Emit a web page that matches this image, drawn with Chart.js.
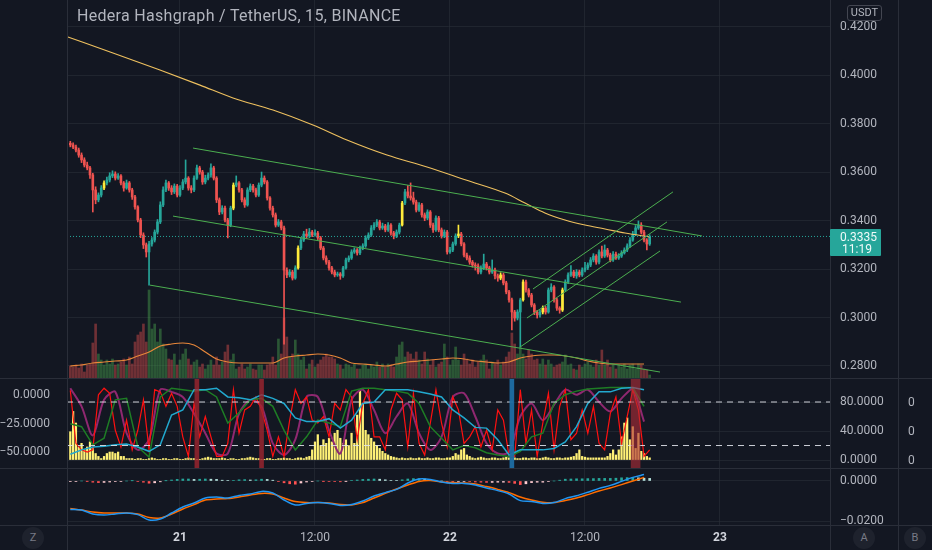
<!DOCTYPE html>
<html><head><meta charset="utf-8">
<script src="https://cdn.jsdelivr.net/npm/chart.js@4.4.1/dist/chart.umd.min.js"></script>
<style>
html,body{margin:0;padding:0;background:#131722;}
body{width:932px;height:550px;position:relative;overflow:hidden;font-family:Roboto,"Noto Sans","DejaVu Sans",sans-serif;}
canvas{position:absolute;left:0;}
.t{position:absolute;color:#b2b5be;white-space:nowrap;}
.hl{position:absolute;left:0;width:932px;height:1px;background:#2a2e39;}
.vl{position:absolute;top:0;width:1px;height:550px;background:#2a2e39;}
.btn{position:absolute;width:22px;height:22px;border-radius:50%;background:#1e222d;color:#787b86;font-size:11px;line-height:22px;text-align:center;}
</style></head>
<body>
<canvas id="pMain" width="932" height="378" style="top:0"></canvas>
<canvas id="pInd" width="932" height="90" style="top:378px"></canvas>
<canvas id="pMacd" width="932" height="82" style="top:468px"></canvas>

<div class="vl" style="left:67px"></div>
<div class="vl" style="left:830px"></div>
<div class="vl" style="left:898px"></div>
<div class="hl" style="top:378px"></div>
<div class="hl" style="top:468px"></div>
<div class="hl" style="top:525px"></div>

<div class="t" style="left:77px;top:6px;font-size:16px;line-height:20px;letter-spacing:0.3px;">Hedera Hashgraph / TetherUS, 15, BINANCE</div>
<div class="t" style="left:847px;top:5px;width:33px;height:14px;border:1px solid #434651;border-radius:3px;font-size:11px;line-height:14px;text-align:center;">USDT</div>
<div style="position:absolute;left:830px;top:229px;width:51px;height:27px;background:#26a69a;border-radius:1px;color:#f0faf9;font-size:12px;line-height:12px;">
  <div style="position:absolute;left:10px;top:2px;">0.3335</div>
  <div style="position:absolute;left:12px;top:14px;">11:19</div>
</div>
<div class="t" style="left:908px;top:395px;font-size:12px;line-height:14px;">0</div>
<div class="t" style="left:908px;top:424px;font-size:12px;line-height:14px;">0</div>
<div class="t" style="left:908px;top:453px;font-size:12px;line-height:14px;">0</div>
<div class="btn" style="left:22px;top:527px;">Z</div>
<div class="btn" style="left:853px;top:527px;">A</div>
<div class="btn" style="left:904px;top:527px;">B</div>

<script>
// ---------------- DATA ----------------
const timeTickHours = [0, 12, 24, 36, 48];
const timeTickLabels = ["21", "12:00", "22", "12:00", "23"];
const priceTicks = [0.28, 0.30, 0.32, 0.34, 0.36, 0.38, 0.40, 0.42];
const START_HOUR = -9.75;   // first 15m candle (20th 14:15), hours from day 21 00:00
const STEP = 0.25;          // 15 minutes

const firstOpen = 0.3720;
const closes = [0.3713,0.3704,0.3692,0.3671,0.3651,0.3630,0.3618,0.3589,0.3527,0.3486,
 0.3506,0.3535,0.3556,0.3568,0.3585,0.3593,0.3576,0.3585,0.3556,0.3535,
 0.3556,0.3527,0.3498,0.3457,0.3403,0.3341,0.3300,0.3271,0.3304,0.3320,
 0.3353,0.3395,0.3465,0.3527,0.3556,0.3535,0.3519,0.3543,0.3506,0.3535,
 0.3560,0.3576,0.3535,0.3527,0.3576,0.3618,0.3601,0.3560,0.3576,0.3589,
 0.3618,0.3576,0.3486,0.3436,0.3452,0.3403,0.3382,0.3452,0.3547,0.3556,
 0.3527,0.3486,0.3465,0.3527,0.3543,0.3527,0.3506,0.3547,0.3576,0.3560,
 0.3494,0.3452,0.3424,0.3382,0.3395,0.3370,0.3196,0.3176,0.3188,0.3163,
 0.3205,0.3287,0.3320,0.3345,0.3337,0.3353,0.3341,0.3349,0.3329,0.3287,
 0.3246,0.3229,0.3205,0.3188,0.3176,0.3180,0.3172,0.3205,0.3238,0.3246,
 0.3271,0.3279,0.3267,0.3287,0.3296,0.3329,0.3341,0.3370,0.3382,0.3395,
 0.3370,0.3378,0.3362,0.3382,0.3349,0.3337,0.3353,0.3382,0.3473,0.3519,
 0.3502,0.3494,0.3477,0.3444,0.3465,0.3424,0.3411,0.3436,0.3382,0.3362,
 0.3411,0.3362,0.3337,0.3353,0.3271,0.3279,0.3304,0.3337,0.3345,0.3304,
 0.3258,0.3246,0.3229,0.3217,0.3213,0.3188,0.3205,0.3221,0.3205,0.3188,
 0.3196,0.3172,0.3163,0.3176,0.3143,0.3106,0.3073,0.3023,0.2998,0.3023,
 0.3073,0.3147,0.3114,0.3093,0.3052,0.3023,0.3011,0.3023,0.3039,0.3023,
 0.3114,0.3126,0.3073,0.3039,0.3031,0.3114,0.3147,0.3176,0.3188,0.3172,
 0.3188,0.3176,0.3196,0.3205,0.3217,0.3238,0.3254,0.3229,0.3271,0.3254,
 0.3279,0.3258,0.3238,0.3262,0.3246,0.3254,0.3267,0.3279,0.3296,0.3320,
 0.3345,0.3370,0.3382,0.3353,0.3320,0.3304,0.3335];
const highs = [0.3728,0.3722,0.3712,0.3700,0.3680,0.3660,0.3642,0.3625,0.3596,0.3540,
 0.3515,0.3545,0.3565,0.3580,0.3598,0.3606,0.3602,0.3595,0.3590,0.3562,
 0.3568,0.3562,0.3534,0.3505,0.3462,0.3410,0.3350,0.3308,0.3315,0.3330,
 0.3362,0.3405,0.3478,0.3540,0.3568,0.3562,0.3545,0.3552,0.3550,0.3545,
 0.3570,0.3651,0.3582,0.3545,0.3585,0.3630,0.3625,0.3608,0.3588,0.3598,
 0.3635,0.3625,0.3582,0.3494,0.3462,0.3460,0.3410,0.3460,0.3556,0.3585,
 0.3562,0.3534,0.3495,0.3536,0.3552,0.3550,0.3535,0.3556,0.3601,0.3585,
 0.3566,0.3500,0.3460,0.3432,0.3405,0.3402,0.3378,0.3205,0.3198,0.3195,
 0.3214,0.3296,0.3330,0.3356,0.3365,0.3368,0.3360,0.3362,0.3356,0.3335,
 0.3294,0.3255,0.3236,0.3212,0.3196,0.3188,0.3186,0.3212,0.3246,0.3255,
 0.3280,0.3288,0.3285,0.3295,0.3305,0.3338,0.3350,0.3380,0.3392,0.3405,
 0.3402,0.3390,0.3385,0.3392,0.3388,0.3356,0.3362,0.3390,0.3480,0.3530,
 0.3545,0.3556,0.3518,0.3485,0.3475,0.3472,0.3432,0.3445,0.3442,0.3390,
 0.3420,0.3418,0.3370,0.3362,0.3360,0.3290,0.3312,0.3346,0.3382,0.3352,
 0.3310,0.3266,0.3255,0.3236,0.3226,0.3222,0.3214,0.3262,0.3228,0.3212,
 0.3238,0.3204,0.3180,0.3185,0.3184,0.3150,0.3112,0.3080,0.3030,0.3032,
 0.3080,0.3156,0.3155,0.3120,0.3100,0.3058,0.3030,0.3032,0.3048,0.3046,
 0.3122,0.3140,0.3132,0.3080,0.3045,0.3122,0.3156,0.3185,0.3215,0.3195,
 0.3198,0.3196,0.3205,0.3228,0.3226,0.3248,0.3264,0.3260,0.3280,0.3295,
 0.3300,0.3286,0.3266,0.3272,0.3270,0.3264,0.3276,0.3288,0.3305,0.3330,
 0.3356,0.3380,0.3399,0.3392,0.3360,0.3326,0.3342];
const lows = [0.3705,0.3698,0.3684,0.3662,0.3640,0.3622,0.3610,0.3575,0.3436,0.3470,
 0.3478,0.3498,0.3528,0.3548,0.3560,0.3578,0.3568,0.3570,0.3548,0.3522,
 0.3530,0.3518,0.3488,0.3448,0.3395,0.3330,0.3285,0.3250,0.3134,0.3295,
 0.3312,0.3345,0.3388,0.3458,0.3520,0.3525,0.3508,0.3512,0.3498,0.3500,
 0.3528,0.3552,0.3526,0.3515,0.3520,0.3570,0.3592,0.3550,0.3552,0.3568,
 0.3580,0.3568,0.3475,0.3425,0.3428,0.3395,0.3329,0.3375,0.3445,0.3540,
 0.3518,0.3478,0.3455,0.3460,0.3520,0.3518,0.3498,0.3500,0.3540,0.3552,
 0.3485,0.3444,0.3415,0.3374,0.3376,0.3362,0.2890,0.3165,0.3168,0.3155,
 0.3158,0.3200,0.3280,0.3314,0.3328,0.3330,0.3334,0.3336,0.3322,0.3280,
 0.3238,0.3220,0.3196,0.3180,0.3168,0.3170,0.3158,0.3166,0.3200,0.3230,
 0.3240,0.3265,0.3258,0.3260,0.3280,0.3290,0.3322,0.3335,0.3362,0.3375,
 0.3362,0.3364,0.3354,0.3356,0.3340,0.3325,0.3330,0.3345,0.3378,0.3466,
 0.3494,0.3485,0.3468,0.3436,0.3438,0.3415,0.3400,0.3404,0.3372,0.3352,
 0.3356,0.3354,0.3328,0.3330,0.3262,0.3265,0.3272,0.3298,0.3330,0.3296,
 0.3250,0.3238,0.3220,0.3208,0.3196,0.3180,0.3180,0.3198,0.3196,0.3180,
 0.3182,0.3160,0.3150,0.3156,0.3135,0.3098,0.3064,0.2949,0.2985,0.2990,
 0.2878,0.3068,0.3105,0.3085,0.3044,0.3012,0.2998,0.3002,0.3015,0.3014,
 0.3018,0.3106,0.3064,0.3030,0.3018,0.3025,0.3108,0.3140,0.3170,0.3165,
 0.3162,0.3168,0.3170,0.3188,0.3198,0.3210,0.3230,0.3220,0.3222,0.3246,
 0.3248,0.3250,0.3230,0.3232,0.3240,0.3240,0.3248,0.3262,0.3272,0.3290,
 0.3315,0.3338,0.3364,0.3345,0.3312,0.3279,0.3298];
const signalCandles = [12, 58, 81, 118, 138, 153, 161, 168, 175];

const volumes = [12,11,13,10,14,6,13,14,35,54, 24,18,13,18,14,19,13,14,16,19,
 13,21,14,36,43,46,54,36,88,49, 54,36,49,34,29,19,18,24,13,18,
 24,29,19,13,16,18,11,14,9,13, 18,13,21,13,16,26,33,18,24,9,
 11,14,9,11,14,9,8,13,13,8, 13,14,21,13,39,24,60,41,21,24,
 38,24,18,21,9,14,18,11,14,18, 21,24,21,21,19,14,13,9,14,13,
 11,14,9,9,13,14,9,13,11,16, 11,14,11,14,13,11,21,33,36,21,
 26,24,19,26,18,14,26,19,13,18, 11,14,16,34,21,13,18,31,18,13,
 24,19,14,18,11,16,18,23,18,9, 16,14,18,13,16,21,26,45,34,24,
 31,24,19,28,24,18,19,14,19,13, 18,14,11,13,14,16,23,13,14,9,
 8,13,11,14,16,13,11,18,13,28, 13,18,11,13,9,13,11,14,9,13,
 14,9,14,13,9,8,3];
const volumeMA = [12,13,15,16,17,18,22,26,32,34,35,33,26,19,16,15,15,15,15,20,
 22,23,24,23,20,15,14,13,12,14,16,17,18,19,20,19,17,16,15,16,
 20,22,23,23,22,20,17,15,14,14,14,14];   // one value every 4 candles

const emaHours  = [-9.96,-5.96,-1.78,1.78,4.71,8.27,11.82,14.84,18.4,21.96,25.42,28.89,30.67,32.44,34.22,36.0,37.78,39.56,41.78];
const emaValues = [0.4159,0.4093,0.4022,0.3960,0.3907,0.3857,0.3795,0.3733,0.3671,0.3622,0.3568,0.3514,0.3473,0.3432,0.3403,0.3382,0.3366,0.3349,0.3333];

const channelTop    = [[1.16, 0.3700], [46.4, 0.3337]];
const channelMid    = [[-0.62, 0.3419], [44.53, 0.3064]];
const channelBottom = [[-2.67, 0.3134], [42.67, 0.2775]];
const riseTop       = [[31.38, 0.3118], [43.82, 0.3519]];
const riseMid       = [[30.84, 0.2998], [43.29, 0.3395]];
const riseBottom    = [[30.22, 0.2878], [42.67, 0.3275]];
const lastPrice = 0.3335;

// oscillator pane (right scale 0..100)
const oscRed = [96,23,14,11,14,90,99,92,41,18, 55,14,41,83,14,97,94,74,92,74,
 32,5,78,32,60,32,5,5,23,97, 37,69,74,87,69,41,5,32,5,55,
 97,78,87,55,51,60,32,78,69,97, 87,28,78,97,32,32,14,69,92,83,
 18,92,23,7,51,97,51,18,87,69, 23,32,46,18,41,14,69,55,5,5,
 97,23,69,5,51,92,14,74,97,28, 37,69,37,74,23,14,64,87,23,60,
 97,69,5,14];  // every 2 candles
const oscPurple = [99,74,34,83,94,37,14,28,97,94, 87,64,37,9,9,64,83,74,23,7,
 28,87,87,41,9,83,97,69,37,60, 78,37,14,32,87,92,60,23,9,11,
 60,78,55,76,97,90,97,80,67,85, 97,53];  // every 4 candles
const oscGreen = [50,46,21,30,83,85,18,4,87,99, 97,95,97,87,51,65,83,85,74,41,
 14,32,55,51,46,95,99,99,97,95, 92,78,46,30,14,20,17,10,7,5,
 12,32,37,78,90,95,98,99,100,100, 100,74];
const oscCyan = [8,14,18,19,21,22,18,12,21,62, 69,97,97,99,87,86,83,90,85,78,
 58,53,53,57,44,55,78,80,97,97, 97,94,91,87,69,58,45,44,28,7,
 14,14,14,16,25,46,78,94,94,99, 100,97];
const oscHist = [39,67,51,18,23,14,18,25,16,9,5,2,5,9,11,11,9,11,5,5,2,2,
 2,1,2,2,1,1,2,3,2,1, 1,2,2,1,1,2,2,1,1,2, 3,2,2,1,1,2,3,4,3,2,
 2,2,3,2,1,2,2,1,1,2, 2,3,4,3,2,2,1,1,2,2, 1,1,2,2,3,2,2,1,2,3, 3,2,4,
 5,14,25,35,20,28,23,30,25,37, 41,30,23,28,20,37,23,62,97,78, 41,35,30,25,20,16,12,9,7,5, 4,
 3,2,3,2,2,3,2,2,3,2, 2,3,2,2,3,3,2,2,3,3,
 5,9,7,14,16,7,5,
 3,2,3,4,3,2,2,3,3,2, 2,3,4,3,2,3,2,2,3,3, 2,3,3,2,2,3,4,3,2,2, 3,3,2,3,3,4,
 5,9,14,5,4,3,3,3,3,3, 3,3,5,9,14,7,14,32,51,58, 28,46,16,37,12,9,5,3];
const redBandHours = [1.5, 7.25];
const blueBandHours = [29.5];
const wideBandHours = [40.5];
const oscLevels = [80, 20];

// MACD pane
const macdLine = [-0.0142,-0.0145,-0.0165,-0.0170,-0.0165,-0.0160,-0.0168,-0.0195,-0.0190,-0.0160,
 -0.0130,-0.0110,-0.0085,-0.0080,-0.0085,-0.0072,-0.0065,-0.0052,-0.0060,-0.0095,
 -0.0120,-0.0112,-0.0108,-0.0112,-0.0122,-0.0118,-0.0100,-0.0075,-0.0058,-0.0042,
 -0.0010,0.0010,0.0008,-0.0005,-0.0012,-0.0012,-0.0020,-0.0035,-0.0048,-0.0065,
 -0.0098,-0.0102,-0.0112,-0.0108,-0.0088,-0.0074,-0.0056,-0.0037,-0.0022,-0.0002,
 0.0018,0.0032];
const macdSignal = [-0.0137,-0.0145,-0.0155,-0.0160,-0.0160,-0.0160,-0.0165,-0.0182,-0.0185,-0.0165,
 -0.0140,-0.0118,-0.0095,-0.0090,-0.0088,-0.0080,-0.0070,-0.0062,-0.0065,-0.0085,
 -0.0103,-0.0108,-0.0108,-0.0110,-0.0118,-0.0120,-0.0108,-0.0085,-0.0062,-0.0040,
 -0.0020,-0.0002,0.0002,-0.0005,-0.0008,-0.0010,-0.0015,-0.0028,-0.0042,-0.0058,
 -0.0080,-0.0095,-0.0106,-0.0108,-0.0098,-0.0085,-0.0068,-0.0050,-0.0035,-0.0018,
 0.0000,0.0018];
const macdHist = [-0.0003,-0.0002,0.0000,-0.0001,-0.0006,-0.0008,-0.0007,-0.0005,-0.0003,-0.0002,
 0.0000,0.0001,-0.0002,-0.0006,-0.0011,-0.0009,-0.0004,0.0001,0.0005,0.0008,
 0.0010,0.0010,0.0008,0.0009,0.0010,0.0009,0.0008,0.0004,0.0002,0.0003,
 0.0006,0.0007,0.0005,0.0006,0.0009,0.0008,0.0004,-0.0003,-0.0009,-0.0014,
 -0.0016,-0.0010,-0.0005,-0.0002,0.0000,-0.0001,-0.0002,-0.0003,-0.0004,-0.0001,
 0.0002,0.0005,0.0008,0.0009,0.0010,0.0009,0.0006,0.0003,0.0002,0.0006,
 0.0010,0.0012,0.0012,0.0010,0.0006,0.0003,0.0000,-0.0002,-0.0004,-0.0003,
 -0.0002,-0.0003,-0.0005,-0.0006,-0.0007,-0.0007,-0.0006,-0.0006,-0.0007,-0.0012,
 -0.0018,-0.0014,-0.0008,-0.0006,-0.0006,-0.0003,0.0000,0.0004,0.0009,0.0010,
 0.0011,0.0011,0.0012,0.0012,0.0013,0.0013,0.0013,0.0014,0.0016,0.0017,
 0.0018,0.0016,0.0014,0.0013];  // every 2 candles

// ---------------- RENDER ----------------
const FONT = 'Roboto, "Noto Sans", sans-serif';
const TXT = '#b2b5be';
const GRID = 'rgba(42,46,57,0.6)';
const X_MIN = -10.044, X_MAX = 57.78;
const P_MIN = 0.27504, P_MAX = 0.43115;
const UP = '#26a69a', DN = '#ef5350', YEL = '#ffeb3b';
Chart.defaults.font.family = FONT;

const hourOf = i => START_HOUR + i * STEP;
const opens = closes.map((c, i) => i === 0 ? firstOpen : closes[i - 1]);
const signalSet = new Set(signalCandles);
const candleColor = i => signalSet.has(i) ? YEL : (closes[i] >= opens[i] ? UP : DN);
const pts = (arr, every) => arr.map((v, k) => ({x: hourOf(k * every), y: v}));
const seg = a => a.map(p => ({x: p[0], y: p[1]}));
const fixWidth = w => s => { s.width = w; s.paddingTop = 0; s.paddingBottom = 0; };
const fmtNeg = v => (v < 0 ? '\u2212' : '') + Math.abs(v).toFixed(4);

function xAxis(showLabels) {
  return {
    type: 'linear', min: X_MIN, max: X_MAX, offset: false,
    afterBuildTicks: s => { s.ticks = timeTickHours.map(v => ({value: v})); },
    grid: {color: GRID, drawTicks: false, offset: false},
    border: {display: false},
    ticks: showLabels ? {
      padding: 6, maxRotation: 0, autoSkip: false,
      callback: v => timeTickLabels[timeTickHours.indexOf(v)],
      color: ctx => (ctx.tick && ctx.tick.value % 24 === 0) ? '#d1d4dc' : TXT,
      font: ctx => ({size: 12, family: FONT, weight: (ctx.tick && ctx.tick.value % 24 === 0) ? 'bold' : 'normal'})
    } : {display: false},
    afterFit: s => { s.height = showLabels ? 25 : 0; s.paddingLeft = 0; s.paddingRight = 0; }
  };
}
const base = {
  responsive: false, animation: false, events: [],
  plugins: {legend: {display: false}, tooltip: {enabled: false}},
  elements: {point: {radius: 0}, line: {tension: 0}}
};
const lineDs = (data, color, width, extra) => Object.assign({type: 'line', data, borderColor: color, borderWidth: width, pointRadius: 0, fill: false}, extra || {});

// ---- main price pane ----
new Chart(document.getElementById('pMain'), {
  type: 'line',
  data: {datasets: [
    Object.assign(lineDs([{x: X_MIN, y: lastPrice}, {x: X_MAX, y: lastPrice}], UP, 1, {borderDash: [1, 2]}), {order: 0}),
    lineDs(seg(channelTop), '#4caf50', 1, {order: 1}),
    lineDs(seg(channelMid), '#4caf50', 1, {order: 1}),
    lineDs(seg(channelBottom), '#4caf50', 1, {order: 1}),
    lineDs(seg(riseTop), '#4caf50', 1, {order: 1}),
    lineDs(seg(riseMid), '#4caf50', 1, {order: 1}),
    lineDs(seg(riseBottom), '#4caf50', 1, {order: 1}),
    lineDs(emaHours.map((h, k) => ({x: h, y: emaValues[k]})), '#efc15f', 1.1, {order: 2, cubicInterpolationMode: 'monotone'}),
    lineDs(pts(volumeMA, 4), '#e8873a', 1.2, {order: 3, yAxisID: 'yv', cubicInterpolationMode: 'monotone'}),
    {type: 'bar', order: 4, grouped: false, barThickness: 2, minBarLength: 1,
     data: closes.map((c, i) => ({x: hourOf(i), y: [opens[i], c]})),
     backgroundColor: ctx => candleColor(ctx.dataIndex)},
    {type: 'bar', order: 5, grouped: false, barThickness: 1,
     data: closes.map((c, i) => ({x: hourOf(i), y: [lows[i], highs[i]]})),
     backgroundColor: ctx => candleColor(ctx.dataIndex)},
    {type: 'bar', order: 10, grouped: false, barThickness: 2, yAxisID: 'yv',
     data: volumes.map((v, i) => ({x: hourOf(i), y: v})),
     backgroundColor: ctx => closes[ctx.dataIndex] >= opens[ctx.dataIndex] ? 'rgba(76,175,80,0.42)' : 'rgba(239,83,80,0.42)'}
  ]},
  options: Object.assign({}, base, {
    layout: {padding: {left: 67, right: 0, top: 0, bottom: 0}},
    scales: {
      x: xAxis(false),
      y: {position: 'right', min: P_MIN, max: P_MAX,
          afterBuildTicks: s => { s.ticks = priceTicks.map(v => ({value: v})); },
          ticks: {color: TXT, font: {size: 12}, padding: 10, callback: v => v.toFixed(4)},
          grid: {color: GRID, drawTicks: false}, border: {display: false}, afterFit: fixWidth(102)},
      yv: {display: false, min: 0, max: 378}
    }
  })
});

// ---- oscillator pane ----
const bandBar = (hours, color, thick) => ({type: 'bar', order: 0, grouped: false, barThickness: thick, yAxisID: 'yr',
  data: hours.map(h => ({x: h, y: [-11, 113.1]})), backgroundColor: color});
new Chart(document.getElementById('pInd'), {
  type: 'line',
  data: {datasets: [
    bandBar(redBandHours, 'rgba(160,38,48,0.8)', 4),
    bandBar(blueBandHours, 'rgba(30,110,165,0.95)', 4),
    bandBar(wideBandHours, 'rgba(175,45,55,0.62)', 9),
    ...oscLevels.map(l => lineDs([{x: X_MIN, y: l}, {x: X_MAX, y: l}], 'rgba(225,227,235,0.9)', 1, {yAxisID: 'yr', order: 1, borderDash: [6, 5]})),
    lineDs(pts(oscCyan, 4), '#22a9cf', 1.5, {yAxisID: 'yr', order: 2}),
    lineDs(pts(oscGreen, 4), '#1e7d25', 1.5, {yAxisID: 'yr', order: 3}),
    lineDs(pts(oscRed, 2), '#ff1010', 1.2, {yAxisID: 'yr', order: 4}),
    lineDs(pts(oscPurple, 4), '#8f2870', 2, {yAxisID: 'yr', order: 5, tension: 0.3}),
    {type: 'bar', order: 10, grouped: false, barThickness: 1.6, yAxisID: 'yr',
     data: oscHist.map((v, i) => ({x: hourOf(i), y: v})), backgroundColor: '#fff176'}
  ]},
  options: Object.assign({}, base, {
    layout: {padding: 0},
    scales: {
      x: xAxis(false),
      yl: {position: 'left', min: -64.0, max: 14.9,
           afterBuildTicks: s => { s.ticks = [0, -25, -50].map(v => ({value: v})); },
           ticks: {color: TXT, font: {size: 12}, padding: 9, callback: fmtNeg},
           grid: {display: false}, border: {display: false}, afterFit: fixWidth(67)},
      yr: {position: 'right', min: -11.0, max: 113.1,
           afterBuildTicks: s => { s.ticks = [0, 40, 80].map(v => ({value: v})); },
           ticks: {color: TXT, font: {size: 12}, padding: 10, callback: v => v.toFixed(4)},
           grid: {color: GRID, drawTicks: false}, border: {display: false}, afterFit: fixWidth(102)}
    }
  })
});

// ---- MACD pane + time axis ----
const histColor = j => {
  const v = macdHist[j], p = j > 0 ? macdHist[j - 1] : v;
  if (v >= 0) return v >= p ? '#26a69a' : '#b2dfdb';
  return v < p ? '#ff5252' : '#ffcdd2';
};
new Chart(document.getElementById('pMacd'), {
  type: 'line',
  data: {datasets: [
    lineDs(pts(macdLine, 4), '#2196f3', 1.5, {order: 1, tension: 0.3}),
    lineDs(pts(macdSignal, 4), '#ff6d00', 1.5, {order: 2, tension: 0.3}),
    {type: 'bar', order: 3, grouped: false, barThickness: 2,
     data: macdHist.map((v, j) => ({x: hourOf(j * 2), y: v})),
     backgroundColor: ctx => histColor(ctx.dataIndex)}
  ]},
  options: Object.assign({}, base, {
    layout: {padding: {left: 67, right: 0, top: 0, bottom: 0}},
    scales: {
      x: xAxis(true),
      y: {position: 'right', min: -0.022, max: 0.0065,
          afterBuildTicks: s => { s.ticks = [0, -0.02].map(v => ({value: v})); },
          ticks: {color: TXT, font: {size: 12}, padding: 10, callback: fmtNeg},
          grid: {color: GRID, drawTicks: false}, border: {display: false}, afterFit: fixWidth(102)}
    }
  })
});
</script>
</body></html>
